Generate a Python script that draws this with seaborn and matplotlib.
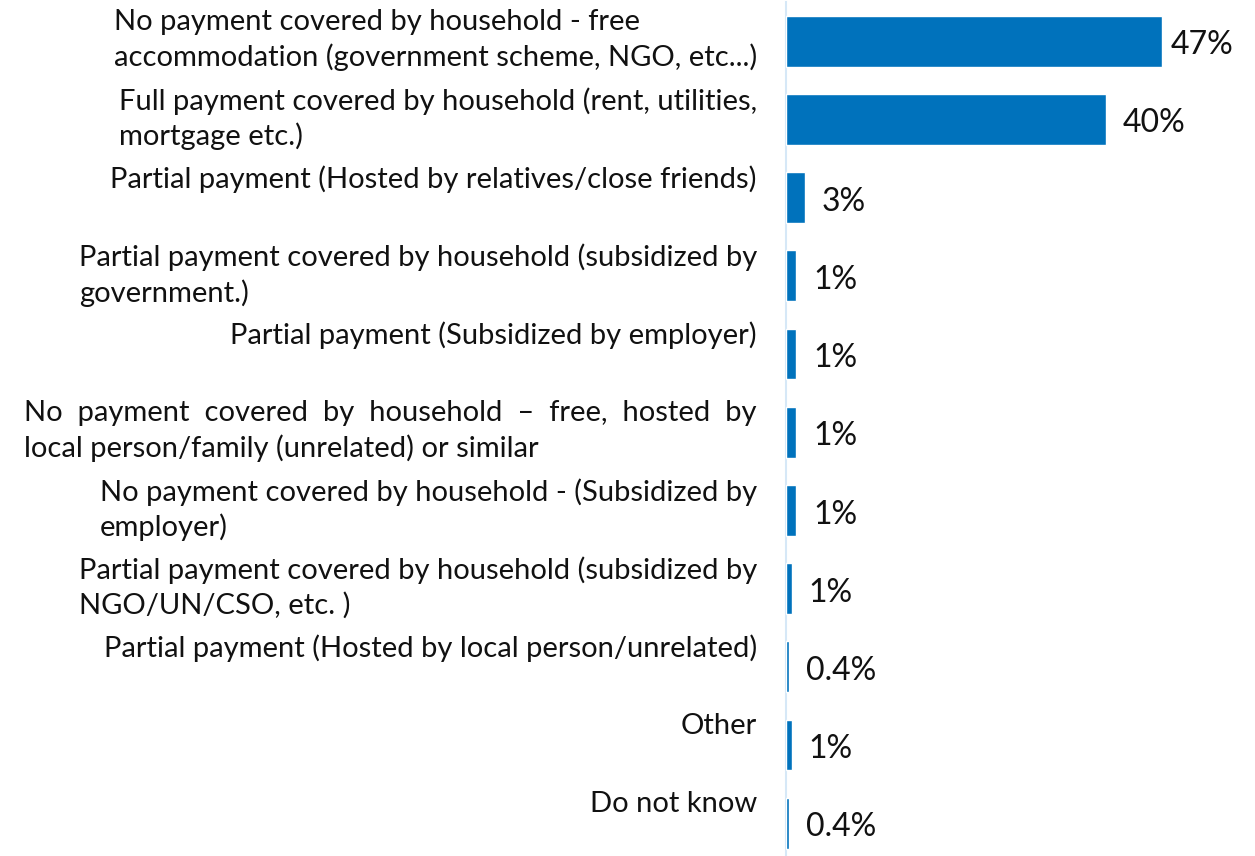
import numpy as np
import pandas as pd
import matplotlib
matplotlib.use("Agg")
import matplotlib.pyplot as plt
import matplotlib.transforms as mtransforms
import seaborn as sns

categories = [
    "No payment covered by household - free\naccommodation (government scheme, NGO, etc...)",
    "Full payment covered by household (rent, utilities,\nmortgage etc.)",
    "Partial payment (Hosted by relatives/close friends)",
    "Partial payment covered by household (subsidized by\ngovernment.)",
    "Partial payment (Subsidized by employer)",
    "No  payment  covered  by  household  –  free,  hosted  by\nlocal person/family (unrelated) or similar",
    "No payment covered by household - (Subsidized by\nemployer)",
    "Partial payment covered by household (subsidized by\nNGO/UN/CSO, etc. )",
    "Partial payment (Hosted by local person/unrelated)",
    "Other",
    "Do not know",
]
values = [47, 40, 2.4, 1.3, 1.3, 1.3, 1.3, 0.7, 0.4, 0.7, 0.4]
value_labels = ["47%", "40%", "3%", "1%", "1%", "1%", "1%", "1%", "0.4%", "1%", "0.4%"]

sns.set_style("white")
plt.rcParams['font.family'] = ['Lato', 'DejaVu Sans']

df = pd.DataFrame({"cat": [str(i) for i in range(len(categories))], "val": values})

fig = plt.figure(figsize=(12.55, 8.56), dpi=100)
ax = fig.add_axes([786 / 1255, 0.0, 400 / 1255, 854 / 856])

sns.barplot(data=df, y="cat", x="val", orient="h", color="#0072BC",
            saturation=1, width=0.65, ax=ax, zorder=3)

ax.set_xlim(0, 50)
ax.set_ylim(10.42, -0.5)
ax.set_xlabel("")
ax.set_ylabel("")
ax.set_xticks([])
ax.set_yticks([])
for s in ["top", "right", "bottom"]:
    ax.spines[s].set_visible(False)
ax.spines["left"].set_color("#D6E8F7")
ax.spines["left"].set_linewidth(1.5)
ax.spines["left"].set_zorder(1)

texts = ax.bar_label(ax.containers[0], labels=value_labels, padding=12,
                     fontsize=23, color="#111111")
for k, t in enumerate(texts):
    # the top label sits a bit closer to its bar in the original
    t.xyann = (6 if k == 0 else 12, -3)

# category labels, top-aligned near the bar tops
trans = mtransforms.blended_transform_factory(ax.transAxes, ax.transData)
for i, c in enumerate(categories):
    ax.text(-0.0725, i - 0.41, c, transform=trans, ha="right", va="top",
            multialignment="left", fontsize=21, linespacing=1.35, color="#111111")

fig.savefig("out.png", dpi=100)
